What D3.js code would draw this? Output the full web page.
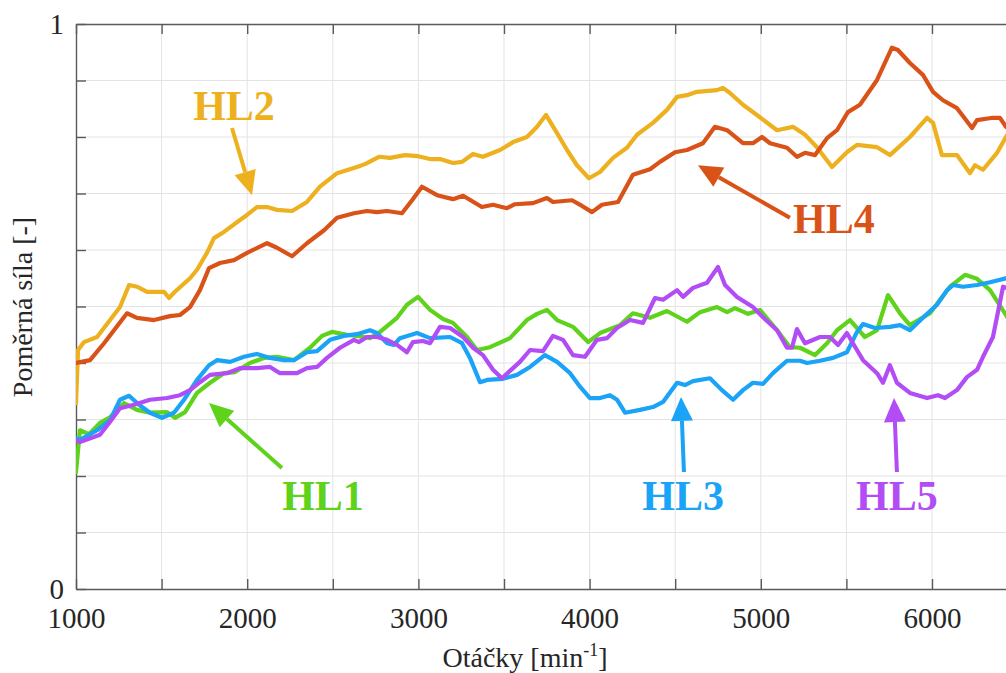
<!DOCTYPE html>
<html>
<head>
<meta charset="utf-8">
<script src="https://cdn.jsdelivr.net/npm/d3@7"></script>
<style>
  html, body { margin: 0; padding: 0; background: #fff; }
  svg { display: block; }
</style>
</head>
<body>
<svg id="chart" width="1006" height="673"></svg>
<script>
// ---------------- DATA ----------------
const xTicks = [1000, 1500, 2000, 2500, 3000, 3500, 4000, 4500, 5000, 5500, 6000, 6500];
const xTickLabels = ["1000", "", "2000", "", "3000", "", "4000", "", "5000", "", "6000", ""];
const yTicks = [0, 0.1, 0.2, 0.3, 0.4, 0.5, 0.6, 0.7, 0.8, 0.9, 1];
const yTickLabels = ["0", "", "", "", "", "", "", "", "", "", "1"];
const seriesNames = ["HL1", "HL2", "HL3", "HL4", "HL5"];
const xLabel = "Otáčky [min";
const xLabelSup = "-1";
const yLabel = "Poměrná síla [-]";

const hl1 = [[1000,0.207],[1023,0.281],[1076,0.274],[1140,0.294],[1199,0.304],[1280,0.329],[1356,0.317],[1432,0.312],[1532,0.313],[1578,0.303],[1637,0.313],[1707,0.347],[1783,0.365],[1864,0.382],[1929,0.384],[2016,0.400],[2098,0.409],[2174,0.411],[2273,0.405],[2367,0.427],[2437,0.448],[2495,0.455],[2583,0.450],[2682,0.446],[2717,0.444],[2776,0.455],[2875,0.480],[2933,0.503],[2998,0.517],[3068,0.494],[3144,0.478],[3202,0.471],[3284,0.446],[3342,0.423],[3418,0.428],[3535,0.444],[3634,0.476],[3693,0.487],[3751,0.494],[3810,0.476],[3903,0.464],[3991,0.437],[4061,0.453],[4178,0.467],[4253,0.488],[4353,0.480],[4452,0.492],[4569,0.473],[4645,0.490],[4744,0.499],[4803,0.490],[4849,0.497],[4925,0.487],[4995,0.494],[5095,0.458],[5170,0.428],[5229,0.427],[5317,0.414],[5387,0.435],[5445,0.458],[5521,0.476],[5608,0.446],[5679,0.458],[5743,0.520],[5813,0.488],[5871,0.467],[5988,0.488],[6105,0.535],[6193,0.556],[6263,0.549],[6339,0.529],[6432,0.485],[6460,0.470]];

const hl2 = [[1000,0.329],[1012,0.423],[1047,0.437],[1123,0.446],[1199,0.476],[1257,0.499],[1310,0.538],[1356,0.535],[1415,0.526],[1514,0.526],[1543,0.515],[1578,0.526],[1666,0.550],[1707,0.565],[1765,0.595],[1806,0.621],[1864,0.632],[1958,0.653],[1999,0.662],[2057,0.676],[2116,0.676],[2174,0.671],[2262,0.669],[2349,0.685],[2425,0.712],[2525,0.736],[2641,0.747],[2688,0.752],[2770,0.765],[2834,0.763],[2922,0.768],[2998,0.766],[3068,0.761],[3126,0.761],[3202,0.754],[3255,0.756],[3319,0.770],[3377,0.765],[3477,0.777],[3553,0.791],[3634,0.800],[3693,0.818],[3745,0.839],[3810,0.807],[3868,0.777],[3926,0.750],[3996,0.727],[4061,0.738],[4137,0.763],[4218,0.781],[4277,0.804],[4370,0.825],[4452,0.848],[4511,0.871],[4569,0.874],[4627,0.880],[4744,0.883],[4779,0.887],[4820,0.878],[4896,0.857],[4995,0.835],[5095,0.812],[5188,0.818],[5258,0.804],[5328,0.782],[5416,0.747],[5503,0.773],[5562,0.786],[5679,0.782],[5754,0.768],[5871,0.800],[5971,0.834],[6006,0.825],[6058,0.768],[6146,0.768],[6222,0.736],[6251,0.750],[6298,0.742],[6380,0.772],[6432,0.800],[6460,0.812]];

const hl3 = [[1000,0.267],[1023,0.264],[1123,0.281],[1199,0.299],[1257,0.335],[1310,0.342],[1368,0.326],[1432,0.312],[1502,0.303],[1572,0.312],[1631,0.335],[1707,0.370],[1777,0.396],[1824,0.405],[1900,0.402],[1981,0.411],[2057,0.416],[2133,0.409],[2215,0.405],[2273,0.405],[2349,0.419],[2408,0.421],[2484,0.441],[2565,0.448],[2641,0.451],[2717,0.458],[2758,0.453],[2817,0.435],[2857,0.432],[2892,0.444],[2992,0.453],[3068,0.444],[3185,0.446],[3255,0.435],[3301,0.409],[3360,0.366],[3401,0.370],[3494,0.372],[3576,0.379],[3652,0.393],[3739,0.414],[3810,0.402],[3886,0.382],[3944,0.358],[4002,0.338],[4061,0.338],[4119,0.343],[4160,0.335],[4207,0.312],[4294,0.317],[4370,0.322],[4429,0.331],[4511,0.365],[4557,0.361],[4604,0.368],[4703,0.373],[4773,0.352],[4838,0.335],[4896,0.352],[4954,0.365],[5013,0.363],[5071,0.382],[5153,0.404],[5229,0.404],[5270,0.400],[5346,0.404],[5422,0.409],[5503,0.419],[5562,0.455],[5597,0.469],[5667,0.462],[5754,0.464],[5813,0.467],[5871,0.458],[5947,0.480],[6029,0.503],[6088,0.529],[6123,0.538],[6181,0.535],[6263,0.538],[6339,0.543],[6432,0.550],[6460,0.552]];

const hl4 = [[1000,0.400],[1082,0.405],[1164,0.435],[1222,0.458],[1298,0.488],[1356,0.480],[1456,0.476],[1549,0.483],[1607,0.485],[1666,0.499],[1724,0.529],[1777,0.568],[1841,0.577],[1923,0.582],[1999,0.595],[2116,0.612],[2174,0.604],[2262,0.589],[2349,0.612],[2449,0.635],[2525,0.657],[2624,0.665],[2700,0.669],[2758,0.667],[2817,0.669],[2904,0.665],[2963,0.688],[3021,0.712],[3109,0.697],[3202,0.690],[3261,0.696],[3371,0.676],[3436,0.680],[3517,0.674],[3564,0.681],[3669,0.683],[3751,0.692],[3786,0.685],[3897,0.688],[3956,0.678],[4014,0.667],[4072,0.680],[4166,0.685],[4253,0.733],[4353,0.743],[4411,0.756],[4499,0.773],[4569,0.777],[4662,0.789],[4732,0.818],[4803,0.812],[4896,0.789],[4954,0.789],[5007,0.800],[5054,0.789],[5153,0.781],[5211,0.765],[5258,0.772],[5317,0.768],[5387,0.798],[5445,0.812],[5509,0.844],[5579,0.857],[5679,0.901],[5766,0.958],[5801,0.954],[5871,0.931],[5947,0.910],[6006,0.880],[6064,0.865],[6146,0.851],[6234,0.816],[6263,0.830],[6356,0.834],[6397,0.834],[6432,0.818],[6460,0.812]];

const hl5 = [[1000,0.264],[1023,0.260],[1140,0.273],[1199,0.296],[1257,0.320],[1339,0.326],[1432,0.335],[1532,0.338],[1607,0.343],[1666,0.352],[1724,0.366],[1783,0.379],[1882,0.382],[1958,0.391],[2057,0.391],[2133,0.393],[2192,0.382],[2291,0.382],[2349,0.391],[2408,0.393],[2466,0.409],[2542,0.427],[2624,0.441],[2653,0.437],[2700,0.446],[2758,0.446],[2817,0.441],[2875,0.432],[2933,0.419],[2968,0.437],[3027,0.439],[3068,0.435],[3126,0.464],[3185,0.462],[3261,0.446],[3319,0.427],[3377,0.414],[3436,0.388],[3488,0.373],[3535,0.386],[3593,0.402],[3652,0.423],[3728,0.421],[3786,0.448],[3845,0.441],[3903,0.414],[3973,0.411],[4043,0.441],[4102,0.444],[4160,0.462],[4236,0.476],[4312,0.471],[4382,0.515],[4429,0.512],[4511,0.529],[4546,0.517],[4604,0.533],[4686,0.542],[4750,0.570],[4791,0.538],[4861,0.517],[4954,0.499],[5013,0.481],[5095,0.458],[5153,0.427],[5182,0.427],[5211,0.460],[5258,0.435],[5346,0.446],[5404,0.446],[5451,0.432],[5503,0.453],[5538,0.435],[5597,0.405],[5679,0.382],[5714,0.365],[5754,0.396],[5795,0.365],[5871,0.347],[5971,0.338],[6035,0.343],[6076,0.338],[6146,0.352],[6204,0.375],[6263,0.388],[6298,0.411],[6356,0.446],[6415,0.535],[6432,0.533],[6460,0.530]];

// annotation anchors in data units: [label, textX, textY(baseline), arrowFromX, arrowFromY, arrowToX, arrowToY]
const annotations = [
  ["HL1", 2443, 0.140, 2203, 0.214, 1777, 0.329],
  ["HL2", 1923, 0.830, 1911, 0.816, 2028, 0.697],
  ["HL3", 4546, 0.140, 4551, 0.207, 4534, 0.340],
  ["HL4", 5427, 0.630, 5170, 0.657, 4633, 0.750],
  ["HL5", 5795, 0.140, 5795, 0.207, 5778, 0.338]
];

// ---------------- STYLE / LAYOUT ----------------
const colors = {HL1: "#5fd21c", HL2: "#edb120", HL3: "#1aa3f7", HL4: "#d95319", HL5: "#b24df5"};
const seriesData = {HL1: hl1, HL2: hl2, HL3: hl3, HL4: hl4, HL5: hl5};
const plotLeft = 76, plotTop = 24, plotBottom = 589, pxPer1000 = 171.2, plotRight = 1006;
const serif = "'Liberation Serif', 'Times New Roman', Times, serif";

const svg = d3.select("#chart");
const x = d3.scaleLinear().domain([1000, 7000]).range([plotLeft, plotLeft + 6 * pxPer1000]);
const y = d3.scaleLinear().domain([0, 1]).range([plotBottom, plotTop]);

svg.append("defs").append("clipPath").attr("id", "clip")
  .append("rect").attr("x", plotLeft).attr("y", plotTop)
  .attr("width", plotRight - plotLeft).attr("height", plotBottom - plotTop);

// grid
const grid = svg.append("g").attr("stroke", "#e3e3e3").attr("stroke-width", 1);
grid.selectAll("line.v").data(xTicks.filter(d => d > 1000)).join("line")
  .attr("x1", d => x(d)).attr("x2", d => x(d)).attr("y1", plotTop).attr("y2", plotBottom);
grid.selectAll("line.h").data(yTicks.filter(d => d > 0 && d < 1)).join("line")
  .attr("y1", d => y(d)).attr("y2", d => y(d)).attr("x1", plotLeft).attr("x2", plotRight);

// axes
const axisColor = "#5a5a5a";
function styleAxis(g) {
  g.attr("font-family", serif);
  g.selectAll(".domain").attr("stroke", axisColor).attr("stroke-width", 1.4);
  g.selectAll(".tick line").attr("stroke", axisColor).attr("stroke-width", 1.4);
  g.selectAll(".tick text").attr("fill", "#262626").attr("font-family", serif).attr("font-size", 29);
}
const xBottomScale = x.copy().domain([1000, x.invert(plotRight)]).range([plotLeft, plotRight]);
const gx = svg.append("g").attr("transform", `translate(0,${plotBottom})`)
  .call(d3.axisBottom(xBottomScale).tickValues(xTicks.filter(d => x(d) <= plotRight))
    .tickSize(-10).tickSizeOuter(0).tickPadding(18)
    .tickFormat(d => xTickLabels[xTicks.indexOf(d)]));
styleAxis(gx);
const gxt = svg.append("g").attr("transform", `translate(0,${plotTop})`)
  .call(d3.axisTop(xBottomScale).tickValues(xTicks.filter(d => x(d) <= plotRight))
    .tickSize(-10).tickSizeOuter(0).tickFormat(""));
styleAxis(gxt);
const gy = svg.append("g").attr("transform", `translate(${plotLeft},0)`)
  .call(d3.axisLeft(y).tickValues(yTicks).tickSize(-10).tickSizeOuter(0).tickPadding(12)
    .tickFormat((d, i) => yTickLabels[i]));
styleAxis(gy);

// axis titles
const xt = svg.append("text").attr("x", 525).attr("y", 667).attr("text-anchor", "middle")
  .attr("font-family", serif).attr("font-size", 28).attr("fill", "#262626");
xt.append("tspan").text(xLabel);
xt.append("tspan").attr("font-size", 18).attr("dy", -11).text(xLabelSup);
xt.append("tspan").attr("dy", 11).text("]");

svg.append("text").attr("transform", "translate(32,307) rotate(-90)")
  .attr("text-anchor", "middle").attr("font-family", serif).attr("font-size", 28)
  .attr("fill", "#262626").text(yLabel);

// series
const line = d3.line().x(d => x(d[0])).y(d => y(d[1]));
const lines = svg.append("g").attr("clip-path", "url(#clip)");
seriesNames.forEach(name => {
  lines.append("path").datum(seriesData[name])
    .attr("fill", "none").attr("stroke", colors[name]).attr("stroke-width", 4.2)
    .attr("stroke-linejoin", "round").attr("stroke-linecap", "round")
    .attr("d", line);
});

// annotations
const ann = svg.append("g");
annotations.forEach(([label, tx, ty, fx, fy, ax, ay]) => {
  const c = colors[label];
  const x1 = x(fx), y1 = y(fy), x2 = x(ax), y2 = y(ay);
  const ang = Math.atan2(y2 - y1, x2 - x1);
  const headLen = 24, headW = 11;
  const bx = x2 - headLen * Math.cos(ang), by = y2 - headLen * Math.sin(ang);
  ann.append("line").attr("x1", x1).attr("y1", y1).attr("x2", bx).attr("y2", by)
    .attr("stroke", c).attr("stroke-width", 4);
  const px = -Math.sin(ang), py = Math.cos(ang);
  ann.append("path")
    .attr("d", `M${x2},${y2}L${bx + px * headW},${by + py * headW}L${bx - px * headW},${by - py * headW}Z`)
    .attr("fill", c);
  ann.append("text").attr("x", x(tx)).attr("y", y(ty)).attr("text-anchor", "middle")
    .attr("font-family", serif).attr("font-weight", "bold").attr("font-size", 42)
    .attr("fill", c).text(label);
});
</script>
</body>
</html>
